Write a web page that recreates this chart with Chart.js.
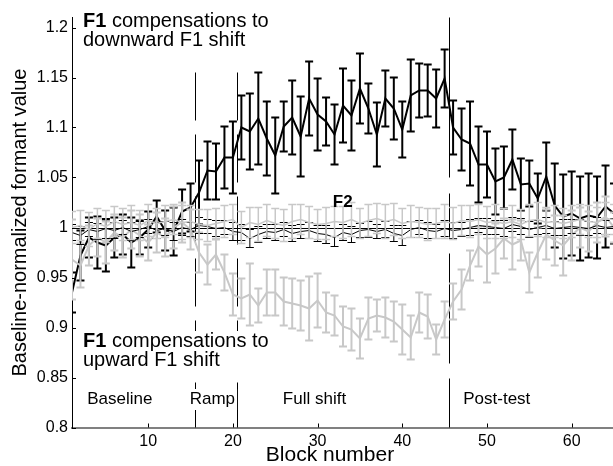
<!DOCTYPE html>
<html><head><meta charset="utf-8">
<script src="https://cdn.jsdelivr.net/npm/chart.js@4"></script>
<style>
html,body{margin:0;padding:0;background:#fff;overflow:hidden;width:613px;height:466px}
#wrap{width:630px;height:466px}
</style></head>
<body><div id="wrap"><canvas id="c" width="630" height="466"></canvas></div>
<script>
// ---------- DATA ----------
const blocks = [1,2,3,4,5,6,7,8,9,10,11,12,13,14,15,16,17,18,19,20,21,22,23,24,25,26,27,28,29,30,
  31,32,33,34,35,36,37,38,39,40,41,42,43,44,45,46,47,48,49,50,51,52,53,54,55,56,57,58,59,60,61,62,63,64,65];

// F1 response to downward F1 shift (black)
const f1Down = [0.935,0.972,0.990,0.985,0.982,0.990,0.993,0.985,0.990,0.998,
 1.011,0.997,0.996,1.016,1.020,1.035,1.057,1.056,1.070,1.070,
 1.100,1.096,1.109,1.089,1.072,1.101,1.110,1.091,1.129,1.113,
 1.106,1.093,1.122,1.112,1.139,1.119,1.093,1.129,1.119,1.098,
 1.132,1.137,1.137,1.129,1.149,1.100,1.088,1.084,1.063,1.063,
 1.046,1.050,1.068,1.043,1.044,1.029,1.051,1.022,1.011,1.014,
 1.009,1.012,1.010,1.021,1.014];
const f1DownErr = [0.020,0.025,0.020,0.026,0.026,0.020,0.020,0.025,0.017,0.018,
 0.016,0.020,0.024,0.022,0.024,0.032,0.029,0.028,0.031,0.036,
 0.032,0.038,0.046,0.037,0.038,0.025,0.037,0.040,0.037,0.036,
 0.024,0.030,0.037,0.035,0.035,0.025,0.032,0.028,0.031,0.028,
 0.036,0.027,0.026,0.029,0.029,0.027,0.031,0.042,0.038,0.033,
 0.033,0.031,0.030,0.026,0.023,0.025,0.034,0.042,0.042,0.042,
 0.042,0.042,0.041,0.041,0.030];

// F1 response to upward F1 shift (gray)
const f1Up = [0.968,0.962,0.982,0.990,0.985,0.995,0.990,0.998,0.992,0.985,
 0.995,0.990,1.000,1.005,0.998,0.975,0.963,0.973,0.955,0.933,
 0.929,0.933,0.922,0.935,0.935,0.926,0.924,0.922,0.919,0.927,
 0.915,0.912,0.901,0.898,0.889,0.909,0.912,0.910,0.906,0.898,
 0.890,0.915,0.911,0.888,0.908,0.926,0.938,0.962,0.981,0.973,
 0.979,0.989,0.983,0.987,0.955,0.975,0.993,0.987,0.982,0.992,
 1.000,0.996,1.005,1.011,1.000];
const f1UpErr = [0.040,0.022,0.020,0.019,0.021,0.018,0.020,0.019,0.021,0.018,
 0.020,0.019,0.021,0.020,0.020,0.020,0.020,0.015,0.018,0.021,
 0.020,0.031,0.017,0.023,0.023,0.024,0.025,0.025,0.032,0.027,
 0.020,0.020,0.020,0.021,0.020,0.021,0.016,0.020,0.020,0.025,
 0.022,0.020,0.022,0.015,0.018,0.018,0.020,0.015,0.020,0.028,
 0.025,0.020,0.025,0.020,0.020,0.025,0.025,0.025,0.030,0.025,
 0.020,0.020,0.020,0.020,0.015];

// F2, downward-shift group (black)
const f2Down = [0.995,0.992,0.998,0.996,0.999,0.997,1.000,0.996,0.998,1.001,
 0.997,0.999,0.996,1.000,0.998,1.002,1.001,0.999,1.000,0.996,
 0.995,0.989,0.993,0.996,0.995,0.998,0.994,0.996,0.997,0.994,
 0.993,0.990,0.995,0.993,0.997,0.998,0.996,0.998,0.994,0.992,
 0.998,1.000,0.997,0.996,0.999,0.997,0.998,1.000,1.002,1.001,
 1.000,0.999,1.003,1.001,0.998,1.000,1.002,0.999,1.000,1.001,
 1.000,0.999,1.002,1.000,1.001];
const f2DownErr = [0.008,0.009,0.007,0.008,0.010,0.008,0.007,0.009,0.008,0.007,
 0.008,0.007,0.009,0.008,0.007,0.008,0.007,0.008,0.007,0.009,
 0.008,0.009,0.008,0.007,0.008,0.007,0.008,0.007,0.008,0.008,
 0.009,0.009,0.008,0.008,0.007,0.008,0.007,0.008,0.008,0.010,
 0.008,0.007,0.008,0.007,0.008,0.008,0.007,0.008,0.007,0.008,
 0.007,0.008,0.007,0.008,0.008,0.007,0.008,0.007,0.008,0.007,
 0.008,0.007,0.008,0.007,0.008];

// F2, upward-shift group (gray)
const f2Up = [1.000,1.002,0.998,1.004,1.001,1.006,1.003,1.005,1.002,1.007,
 1.004,1.006,1.008,1.005,1.006,1.003,1.002,1.004,1.006,1.008,
 1.000,1.005,1.003,1.007,1.004,1.002,1.006,1.008,1.005,1.003,
 1.004,1.006,1.005,1.008,1.004,1.007,1.009,1.006,1.008,1.004,
 1.006,1.005,1.003,1.004,1.006,1.004,1.007,1.006,1.008,1.005,
 1.006,1.004,1.006,1.003,1.007,1.008,1.005,1.006,1.004,1.006,
 1.008,1.006,1.005,1.009,1.008];
const f2UpErr = [0.016,0.015,0.017,0.015,0.016,0.015,0.016,0.017,0.015,0.016,
 0.015,0.016,0.015,0.017,0.016,0.015,0.016,0.015,0.016,0.015,
 0.016,0.015,0.017,0.016,0.015,0.016,0.017,0.015,0.016,0.015,
 0.016,0.015,0.016,0.017,0.015,0.016,0.015,0.017,0.016,0.015,
 0.016,0.015,0.016,0.015,0.017,0.016,0.015,0.016,0.015,0.016,
 0.017,0.015,0.016,0.015,0.016,0.017,0.015,0.016,0.015,0.016,
 0.015,0.016,0.015,0.016,0.015];

const xTicks = [10,20,30,40,50,60];
const yTicks = [0.8,0.85,0.9,0.95,1,1.05,1.1,1.15,1.2];
const yTickLabels = ["0.8","0.85","0.9","0.95","1","1.05","1.1","1.15","1.2"];
const phaseBounds = [15.5, 20.5, 45.5];
const phaseLabels = ["Baseline","Ramp","Full shift","Post-test"];
const phaseLabelX = [2.8, 14.9, 25.9, 47.2];

// ---------- STYLE ----------
const GRAY = '#c8c8c8';
const FONT = "'Liberation Sans', Arial, Helvetica, sans-serif";
const pts = arr => arr.map((v,i)=>({x:blocks[i], y:v}));

const errorBars = {
  id:'errorBars',
  afterDatasetDraw(chart, args){
    const ds = chart.data.datasets[args.index];
    if(!ds.errors) return;
    const {ctx, chartArea:a} = chart; const xs = chart.scales.x, ys = chart.scales.y;
    ctx.save();
    ctx.beginPath(); ctx.rect(a.left, a.top, a.right-a.left, a.bottom-a.top); ctx.clip();
    ctx.strokeStyle = ds.borderColor; ctx.lineWidth = ds.errWidth;
    const cap = 4;
    ds.data.forEach((p,i)=>{
      const e = ds.errors[i];
      const px = xs.getPixelForValue(p.x);
      const t = ys.getPixelForValue(p.y+e), b = ys.getPixelForValue(p.y-e);
      ctx.beginPath();
      ctx.moveTo(px,t); ctx.lineTo(px,b);
      ctx.moveTo(px-cap,t); ctx.lineTo(px+cap,t);
      ctx.moveTo(px-cap,b); ctx.lineTo(px+cap,b);
      ctx.stroke();
    });
    ctx.restore();
  }
};

const decor = {
  id:'decor',
  beforeDatasetsDraw(chart){
    const {ctx, chartArea:a} = chart; const xs = chart.scales.x, ys = chart.scales.y;
    ctx.save();
    ctx.strokeStyle='#000'; ctx.lineWidth=1;
    const y1 = Math.round(ys.getPixelForValue(1))+0.5;
    ctx.beginPath(); ctx.moveTo(a.left,y1); ctx.lineTo(a.right,y1); ctx.stroke();
    phaseBounds.forEach((b,i)=>{
      const px = Math.round(xs.getPixelForValue(b))+0.5;
      ctx.beginPath();
      if(i<2){ ctx.setLineDash([48,14]); ctx.moveTo(px, ys.getPixelForValue(1.155)); }
      else { ctx.setLineDash([160,16,44,16,110,15]); ctx.moveTo(px, a.top); }
      ctx.lineTo(px, a.bottom); ctx.stroke();
    });
    ctx.restore();
  },
  afterDatasetsDraw(chart){
    const {ctx} = chart; const xs = chart.scales.x;
    ctx.save();
    ctx.textBaseline='alphabetic'; ctx.textAlign='left';
    const box = (x,y,w,h)=>{ ctx.fillStyle='#fff'; ctx.fillRect(x,y,w,h); };
    const f1Note = (x, yBase, l2) => {
      const bold = "bold 20px "+FONT, reg = "20px "+FONT;
      ctx.font = bold; const wF = ctx.measureText("F1").width;
      ctx.font = reg; const w1 = wF + ctx.measureText(" compensations to").width;
      const w2 = ctx.measureText(l2).width;
      box(x-2, yBase-16, Math.max(w1,w2)+4, 40);
      ctx.fillStyle='#000';
      ctx.font = bold; ctx.fillText("F1", x, yBase);
      ctx.font = reg; ctx.fillText(" compensations to", x+wF, yBase);
      ctx.fillText(l2, x, yBase+18.5);
    };
    f1Note(83, 27, "downward F1 shift");
    f1Note(83, 347, "upward F1 shift");
    ctx.font = "17px "+FONT;
    phaseLabels.forEach((t,i)=>{
      const x = xs.getPixelForValue(phaseLabelX[i]);
      const w = ctx.measureText(t).width;
      box(x-2, 389, w+4, 21);
      ctx.fillStyle='#000'; ctx.fillText(t, x, 404);
    });
    ctx.font = "bold 17px "+FONT; ctx.fillStyle='#000';
    ctx.fillText("F2", xs.getPixelForValue(31.8), 207);
    ctx.restore();
  },
  afterDraw(chart){
    const {ctx, chartArea:a} = chart; const xs = chart.scales.x, ys = chart.scales.y;
    ctx.save(); ctx.strokeStyle='#000'; ctx.lineWidth=1;
    yTicks.forEach(v=>{ const py=Math.round(ys.getPixelForValue(v))+0.5;
      ctx.beginPath(); ctx.moveTo(a.left,py); ctx.lineTo(a.left+4,py); ctx.stroke(); });
    xTicks.forEach(v=>{ const px=Math.round(xs.getPixelForValue(v))+0.5;
      ctx.beginPath(); ctx.moveTo(px,a.bottom); ctx.lineTo(px,a.bottom-4); ctx.stroke(); });
    // x-axis title (centred as in the original figure)
    ctx.fillStyle='#000'; ctx.font = "21px "+FONT; ctx.textAlign='center'; ctx.textBaseline='middle';
    ctx.fillText("Block number", 330, 455);
    ctx.restore();
  }
};

new Chart(document.getElementById('c'), {
  type:'line',
  data:{ datasets:[
    {label:'F2 up', data:pts(f2Up), errors:f2UpErr, borderColor:GRAY, borderWidth:1.5, errWidth:1.5},
    {label:'F2 down', data:pts(f2Down), errors:f2DownErr, borderColor:'#000', borderWidth:1, errWidth:1},
    {label:'F1 up', data:pts(f1Up), errors:f1UpErr, borderColor:GRAY, borderWidth:2, errWidth:2},
    {label:'F1 down', data:pts(f1Down), errors:f1DownErr, borderColor:'#000', borderWidth:2, errWidth:2}
  ]},
  options:{
    responsive:false, animation:false, devicePixelRatio:1,
    layout:{padding:{top:17.5, right:16, left:0, bottom:0}},
    plugins:{legend:{display:false}, tooltip:{enabled:false}},
    elements:{point:{radius:0}, line:{tension:0, fill:false}},
    scales:{
      x:{type:'linear', min:1, max:65,
        grid:{display:false, drawTicks:false}, border:{display:true, color:'#808080', width:2},
        afterBuildTicks:s=>{ s.ticks = xTicks.map(v=>({value:v})); },
        afterFit:s=>{ s.height = 38.5; },
        ticks:{color:'#000', font:{family:FONT, size:16}, padding:4, maxRotation:0, autoSkip:false,
          callback:(v)=>String(v)},
        title:{display:false}
      },
      y:{min:0.8, max:1.21,
        grid:{display:false, drawTicks:false}, border:{display:true, color:'#000', width:1},
        afterBuildTicks:s=>{ s.ticks = yTicks.map(v=>({value:v})); },
        afterFit:s=>{ s.width = 72; },
        ticks:{color:'#000', font:{family:FONT, size:16}, padding:4, autoSkip:false,
          callback:(v,i)=>yTickLabels[i]},
        title:{display:true, text:'Baseline-normalized formant value', color:'#000', font:{family:FONT, size:20}, padding:{top:8,bottom:0}}
      }
    }
  },
  plugins:[errorBars, decor]
});
</script></body></html>
